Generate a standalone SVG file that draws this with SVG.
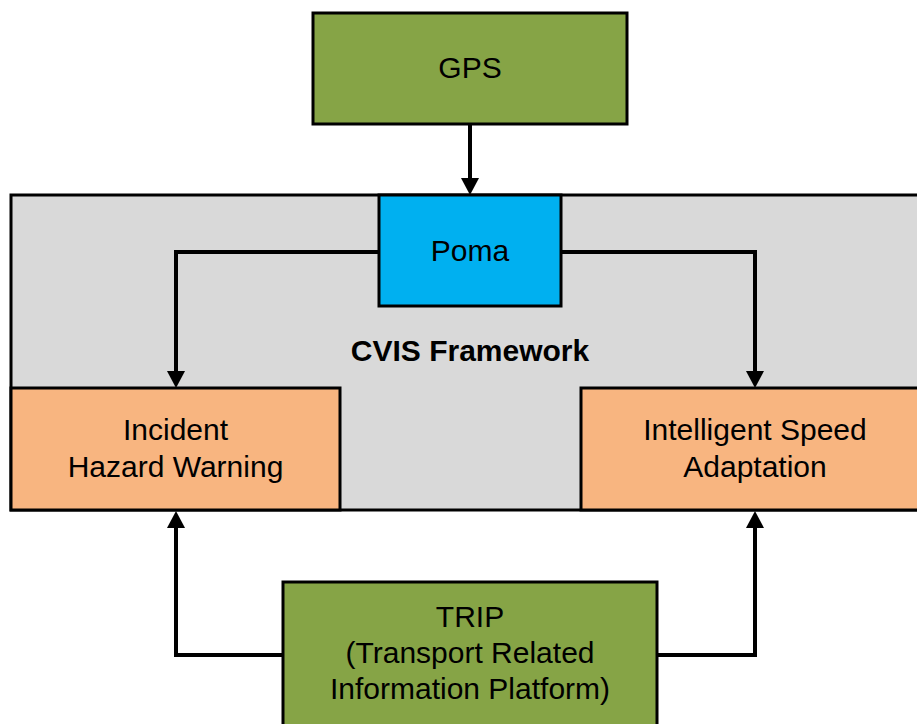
<svg xmlns="http://www.w3.org/2000/svg" width="917" height="724" viewBox="0 0 917 724">
  <style>
    .box { stroke: #000; stroke-width: 3; stroke-linejoin: miter; }
    .green { fill: #86A446; }
    .blue { fill: #00B0F0; }
    .orange { fill: #F8B580; }
    .frame { fill: #D9D9D9; }
    .label { font-family: "Liberation Sans", Arial, sans-serif; font-size: 30px; fill: #000; text-anchor: middle; }
    .title { font-weight: bold; }
    .wire { fill: none; stroke: #000; stroke-width: 4; stroke-linejoin: miter; }
  </style>
  <defs>
    <marker id="arrow" markerUnits="userSpaceOnUse" markerWidth="18" markerHeight="18" refX="0" refY="9" orient="auto">
      <path d="M0,0 L17,9 L0,18 Z" fill="#000"/>
    </marker>
  </defs>

  <!-- CVIS framework container -->
  <g id="cvis-framework">
    <rect class="box frame" x="11" y="195" width="930" height="315"/>
    <text class="label title" x="470" y="361">CVIS Framework</text>
  </g>

  <g id="poma">
    <rect class="box blue" x="379" y="195" width="182" height="111"/>
    <text class="label" x="470" y="261">Poma</text>
  </g>

  <g id="incident-hazard-warning">
    <rect class="box orange" x="11" y="388" width="329" height="122"/>
    <text class="label" x="175.5" y="440">Incident</text>
    <text class="label" x="175.5" y="476.5">Hazard Warning</text>
  </g>

  <g id="intelligent-speed-adaptation">
    <rect class="box orange" x="581" y="388" width="348" height="122"/>
    <text class="label" x="755" y="440">Intelligent Speed</text>
    <text class="label" x="755" y="476.5">Adaptation</text>
  </g>

  <g id="gps">
    <rect class="box green" x="313" y="13" width="314" height="111"/>
    <text class="label" x="470" y="78">GPS</text>
  </g>

  <g id="trip">
    <rect class="box green" x="283" y="582" width="374" height="160"/>
    <text class="label" x="470" y="627">TRIP</text>
    <text class="label" x="470" y="663">(Transport Related</text>
    <text class="label" x="470" y="698.5">Information Platform)</text>
  </g>

  <!-- connectors -->
  <g id="connectors">
    <path class="wire" d="M470,124 V178" marker-end="url(#arrow)"/>
    <path class="wire" d="M379,252 H176 V371" marker-end="url(#arrow)"/>
    <path class="wire" d="M561,252 H755 V371" marker-end="url(#arrow)"/>
    <path class="wire" d="M283,655 H176 V528" marker-end="url(#arrow)"/>
    <path class="wire" d="M657,655 H755 V528" marker-end="url(#arrow)"/>
  </g>
</svg>
